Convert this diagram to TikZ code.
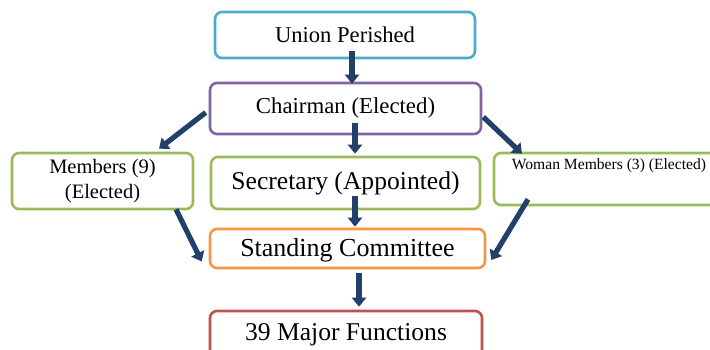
\documentclass[tikz,border=0pt]{standalone}
\usepackage{fontspec}
\setmainfont{Liberation Serif}
\usetikzlibrary{arrows.meta}
\definecolor{uncyan}{HTML}{4BACC6}
\definecolor{unpurple}{HTML}{8064A2}
\definecolor{ungreen}{HTML}{9BBB59}
\definecolor{unorange}{HTML}{F79646}
\definecolor{unred}{HTML}{C0504D}
\definecolor{unnavy}{HTML}{22406A}

\begin{document}
\begin{tikzpicture}[x=1pt,y=-1pt,
    box/.style={draw,line width=2.6pt,rounded corners=7pt,inner sep=0pt,fill=white,align=center},
    flow/.style={unnavy,line width=5.2pt,-{Triangle[width=14pt,length=9pt]}}]
    \useasboundingbox (0,0) rectangle (710,349);
    \clip (0,0) rectangle (710,349);
			\node[box,draw=uncyan,minimum width=260pt,minimum height=46pt,font=\fontsize{22.6}{26}\selectfont] (union) at (345,35) {Union Perished};
			\node[box,draw=unpurple,minimum width=271pt,minimum height=51pt,font=\fontsize{22.8}{26}\selectfont] (chair) at (345.5,108.5) {Chairman (Elected)};
			\node[box,draw=ungreen,minimum width=181pt,minimum height=56pt,text depth=4pt,font=\fontsize{20.5}{25}\selectfont] (mem) at (102.5,181) {Members (9)\\(Elected)};
			\node[box,draw=ungreen,minimum width=269pt,minimum height=52pt,font=\fontsize{25.6}{29}\selectfont] (sec) at (345.5,183) {Secretary (Appointed)};
			\node[box,draw=ungreen,minimum width=230pt,inner ysep=4pt,text height=12pt,text depth=32pt,font=\fontsize{15.6}{18}\selectfont] (woman) at (609,179) {Woman Members (3) (Elected)};
			\node[box,draw=unorange,minimum width=275pt,minimum height=39pt,text height=16pt,text depth=0pt,font=\fontsize{26}{29}\selectfont] (stand) at (347.5,248.5) {Standing Committee};
			\node[box,draw=unred,minimum width=272pt,minimum height=48pt,font=\fontsize{25.6}{29}\selectfont] (major) at (346,335) {39 Major Functions};
			\path[flow]
			([xshift=7pt,yshift=8pt]union.south) edge ([xshift=6.5pt,yshift=-2pt]chair.north)
			([xshift=-3pt,yshift=-4pt]chair.west) edge ([xshift=56.5pt,yshift=3pt]mem.north)
			([xshift=9.5pt,yshift=12pt]chair.south) edge ([xshift=9.5pt,yshift=2pt]sec.north)
			([xshift=1pt,yshift=-8.5pt]chair.east) edge ([xshift=-87pt,yshift=-2pt]woman.north)
			([xshift=73.5pt,yshift=1pt]mem.south) edge ([xshift=-7pt,yshift=-13pt]stand.west)
			([xshift=9.5pt,yshift=14pt]sec.south) edge ([xshift=7.5pt,yshift=1pt]stand.north)
			([xshift=-81pt,yshift=7pt]woman.south) edge ([xshift=5pt,yshift=-11.5pt]stand.east)
			([xshift=11.5pt,yshift=-4pt]stand.south) edge ([xshift=13pt,yshift=3pt]major.north);
		\end{tikzpicture}
\end{document}
